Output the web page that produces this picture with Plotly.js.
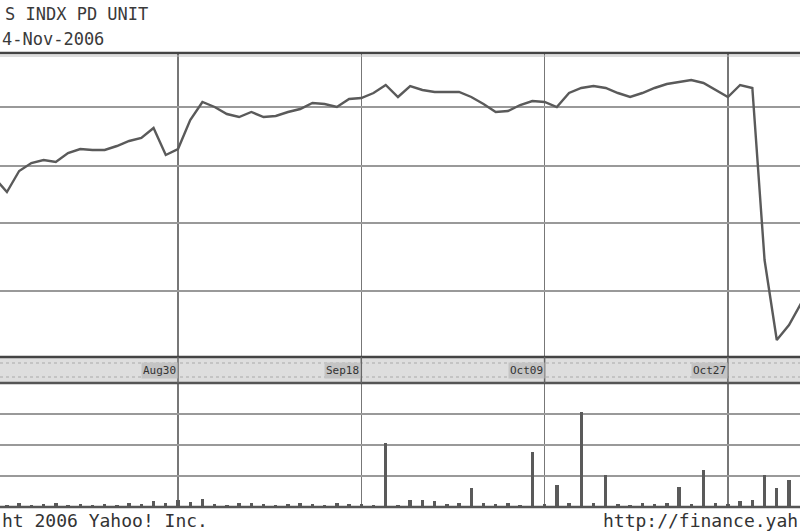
<!DOCTYPE html>
<html>
<head>
<meta charset="utf-8">
<script src="https://cdn.plot.ly/plotly-3.0.1.min.js"></script>
<style>html,body{margin:0;padding:0;background:#fff;}#chart{width:800px;height:532px;}</style>
</head>
<body>
<div id="chart"></div>
<script>
// session index (trading days) across the visible window
const days = [0,1,2,3,4,5,6,7,8,9,10,11,12,13,14,15,16,17,18,19,20,21,22,23,24,25,26,27,28,29,30,31,32,33,34,35,36,37,38,39,40,41,42,43,44,45,46,47,48,49,50,51,52,53,54,55,56,57,58,59,60,61,62,63,64,65,66];
// closing price (estimated)
const closes = [11.82,11.68,11.89,11.97,12.00,11.98,12.07,12.11,12.10,12.10,12.14,12.19,12.22,12.32,12.05,12.11,12.40,12.58,12.53,12.46,12.43,12.48,12.43,12.44,12.48,12.51,12.57,12.56,12.53,12.61,12.62,12.67,12.75,12.63,12.74,12.70,12.68,12.68,12.68,12.63,12.56,12.48,12.49,12.55,12.59,12.58,12.53,12.67,12.72,12.74,12.72,12.67,12.63,12.67,12.72,12.76,12.78,12.80,12.77,12.70,12.63,12.75,12.72,11.00,10.20,10.35,10.57];
// volume in thousands (estimated)
const volumes = [10,8,12,7,10,14,8,11,7,10,8,12,10,18,14,22,16,25,10,8,12,14,10,8,11,12,10,7,14,10,11,8,206,7,22,22,18,10,14,60,12,10,14,8,177,10,70,14,306,12,103,10,8,14,10,12,65,10,120,14,10,18,22,103,60,87,40];
// date labels on the time band
const tickDays = [15,30,45,60];
const tickLabels = ["Aug30","Sep18","Oct09","Oct27"];
const priceGrid = [12.53,11.94,11.37,10.69];
const volumeGrid = [100,200,300];

const H = 532;
const py = v => 1 - v / H;

const traces = [
  {x: days, y: closes, type: 'scatter', mode: 'lines', xaxis: 'x', yaxis: 'y',
   line: {color: '#5a5a5a', width: 2.4}, hoverinfo: 'skip'},
  {x: days, y: volumes, type: 'bar', xaxis: 'x2', yaxis: 'y2', width: 0.28,
   marker: {color: '#5a5a5a', line: {width: 0}}, hoverinfo: 'skip'}
];

const xr = [0.434, 65.9];
const mono = 'DejaVu Sans Mono, Liberation Mono, monospace';

const annotations = tickLabels.map((t, k) => ({
  x: tickDays[k], xref: 'x', xanchor: 'right', y: py(370), yref: 'paper', yanchor: 'middle',
  text: t, showarrow: false, font: {family: mono, size: 11, color: '#333'},
  bgcolor: '#c4c4c4', borderpad: 1
}));
annotations.push(
  {x: 0.004, xref: 'paper', xanchor: 'left', y: py(14), yref: 'paper', yanchor: 'middle',
   text: 'S INDX PD UNIT', showarrow: false, font: {family: mono, size: 17, color: '#3a3a3a'}},
  {x: 0.0, xref: 'paper', xanchor: 'left', y: py(39), yref: 'paper', yanchor: 'middle',
   text: '4-Nov-2006', showarrow: false, font: {family: mono, size: 17, color: '#3a3a3a'}},
  {x: 0.0, xref: 'paper', xanchor: 'left', y: py(520), yref: 'paper', yanchor: 'middle',
   text: 'ht 2006 Yahoo! Inc.', showarrow: false, font: {family: mono, size: 18, color: '#333'}},
  {x: 1.0, xref: 'paper', xanchor: 'right', y: py(520), yref: 'paper', yanchor: 'middle',
   text: 'http://finance.yah', showarrow: false, font: {family: mono, size: 18, color: '#333'}}
);

const shapes = [
  // time band
  {type: 'rect', xref: 'paper', yref: 'paper', x0: 0, x1: 1, y0: py(383), y1: py(357),
   fillcolor: '#dedede', line: {width: 0}, layer: 'below'},
  {type: 'line', xref: 'paper', yref: 'paper', x0: 0, x1: 1, y0: py(357), y1: py(357), line: {color: '#444', width: 2.5}},
  {type: 'line', xref: 'paper', yref: 'paper', x0: 0, x1: 1, y0: py(383), y1: py(383), line: {color: '#555', width: 2.5}},
  {type: 'line', xref: 'paper', yref: 'paper', x0: 0, x1: 1, y0: py(363), y1: py(363), line: {color: '#aaa', width: 1, dash: 'dot'}},
  {type: 'line', xref: 'paper', yref: 'paper', x0: 0, x1: 1, y0: py(377), y1: py(377), line: {color: '#aaa', width: 1, dash: 'dot'}},
  // top border of price panel
  {type: 'line', xref: 'paper', yref: 'paper', x0: 0, x1: 1, y0: py(53), y1: py(53), line: {color: '#444', width: 2.5}},
  {type: 'line', xref: 'paper', yref: 'paper', x0: 0, x1: 1, y0: py(56), y1: py(56), line: {color: '#bbb', width: 1}},
  // bottom border of volume panel
  {type: 'line', xref: 'paper', yref: 'paper', x0: 0, x1: 1, y0: py(507), y1: py(507), line: {color: '#555', width: 2.5}}
];
// vertical gridlines through the time band
tickDays.forEach(d => shapes.push({type: 'line', xref: 'x', yref: 'paper', x0: d, x1: d, y0: py(383), y1: py(357),
  line: {color: '#666', width: 1.5}}));

const layout = {
  width: 800, height: 532,
  margin: {l: 0, r: 0, t: 0, b: 0},
  paper_bgcolor: '#fff', plot_bgcolor: '#fff',
  showlegend: false,
  xaxis: {domain: [0, 1], range: xr, anchor: 'y', tickvals: tickDays, showticklabels: false, ticks: '',
          showgrid: true, gridcolor: '#777', gridwidth: 1.5, zeroline: false, showline: false},
  yaxis: {domain: [py(358), py(53)], range: [10.02, 13.07], tickvals: priceGrid, showticklabels: false, ticks: '',
          showgrid: true, gridcolor: '#999', gridwidth: 2, zeroline: false, showline: false},
  xaxis2: {domain: [0, 1], range: xr, anchor: 'y2', tickvals: tickDays, showticklabels: false, ticks: '',
           showgrid: true, gridcolor: '#777', gridwidth: 1.5, zeroline: false, showline: false},
  yaxis2: {domain: [py(507), py(383)], range: [0, 400], tickvals: volumeGrid, showticklabels: false, ticks: '',
           showgrid: true, gridcolor: '#999', gridwidth: 2, zeroline: false, showline: false},
  bargap: 0,
  annotations: annotations,
  shapes: shapes
};

Plotly.newPlot('chart', traces, layout, {staticPlot: true, displayModeBar: false});
</script>
</body>
</html>
